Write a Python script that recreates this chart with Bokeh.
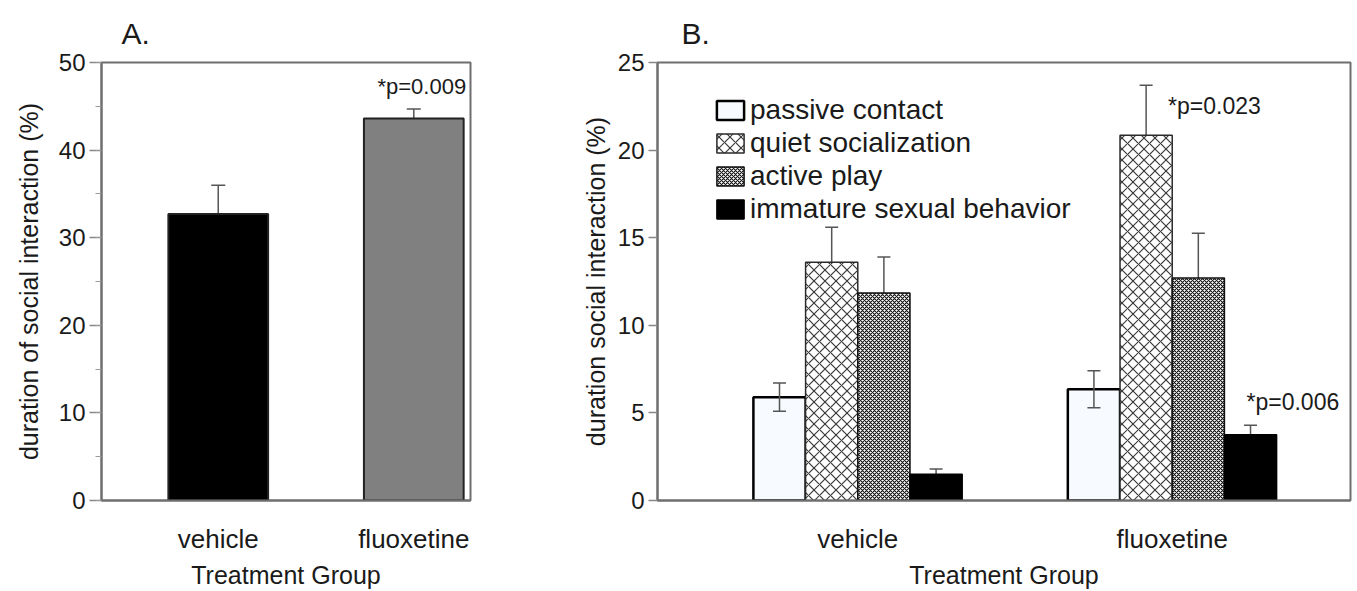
from bokeh.plotting import figure
from bokeh.layouts import row
from bokeh.models import (Range1d, FixedTicker, SingleIntervalTicker, Whisker, TeeHead,
                          ColumnDataSource, Label, Legend, LegendItem, Title)
from bokeh.embed import file_html
from bokeh.resources import INLINE

# ---------------- data ----------------
groups = ["vehicle", "fluoxetine"]

# Panel A: total social interaction
a_means = [32.7, 43.6]
a_errs = [3.3, 1.1]
a_colors = ["#000000", "#808080"]

# Panel B: categories of social interaction
b_series = ["passive contact", "quiet socialization", "active play", "immature sexual behavior"]
passive_means = [5.9, 6.35]
passive_errs = [0.8, 1.05]
quiet_means = [13.6, 20.85]
quiet_errs = [2.0, 2.85]
active_means = [11.85, 12.7]
active_errs = [2.05, 2.55]
immature_means = [1.5, 3.75]
immature_errs = [0.3, 0.55]

FONT = "Liberation Sans"
TXT = "#1a1a1a"
AX = "#6e6e6e"


def style(p, ylabel, label_standoff, tick_out):
    p.outline_line_color = AX
    p.outline_line_width = 2
    p.xgrid.visible = False
    p.ygrid.visible = False
    p.background_fill_color = "white"
    p.border_fill_color = "white"
    for ax in (p.xaxis[0], p.yaxis[0]):
        ax.axis_line_color = AX
        ax.axis_line_width = 2
        ax.major_label_text_font = FONT
        ax.major_label_text_color = TXT
        ax.axis_label_text_font = FONT
        ax.axis_label_text_color = TXT
        ax.axis_label_text_font_style = "normal"
        ax.axis_label_text_font_size = "25px"
    xa = p.xaxis[0]
    xa.major_tick_line_color = None
    xa.minor_tick_line_color = None
    xa.major_label_text_font_size = "26px"
    xa.major_label_standoff = 17
    xa.axis_label = "Treatment Group"
    xa.axis_label_standoff = 4
    ya = p.yaxis[0]
    ya.major_label_text_font_size = "24px"
    ya.major_tick_line_color = "#888888"
    ya.major_tick_line_width = 1.5
    ya.major_tick_out = tick_out
    ya.major_tick_in = 0
    ya.minor_tick_line_color = "#999999"
    ya.minor_tick_out = 6
    ya.minor_tick_in = 0
    ya.major_label_standoff = 4
    ya.axis_label = ylabel
    ya.axis_label_standoff = label_standoff


def panel_title(text, x_off):
    return Title(text=text, text_font=FONT, text_font_size="30px", text_font_style="normal",
                 text_color=TXT, offset=x_off, standoff=25)


# ---------------- Panel A ----------------
xa_pos = [i + 1 for i in range(len(groups))]
pA = figure(frame_width=369, frame_height=438, output_backend="svg", toolbar_location=None,
            x_range=Range1d(0.403, 2.29), y_range=Range1d(0, 50),
            min_border_left=101, min_border_right=30, min_border_top=62, min_border_bottom=86)
pA.title = panel_title("A.", 20)
style(pA, "duration of social interaction (%)", 13, 12)
pA.yaxis[0].ticker = SingleIntervalTicker(interval=10, num_minor_ticks=2)
pA.xaxis[0].ticker = FixedTicker(ticks=xa_pos)
pA.xaxis[0].major_label_overrides = {x: g for x, g in zip(xa_pos, groups)}

srcA = ColumnDataSource(dict(x=xa_pos, top=a_means, color=a_colors,
                             up=[m + e for m, e in zip(a_means, a_errs)]))
pA.add_layout(Whisker(source=srcA, base="x", lower="top", upper="up", dimension="height",
                      line_color="#555555", line_width=1.5, level="underlay",
                      upper_head=TeeHead(size=14, line_color="#555555", line_width=1.5),
                      lower_head=None))
pA.vbar(x="x", top="top", width=0.51, source=srcA, fill_color="color",
        line_color="#222222", line_width=2)
pA.add_layout(Label(x=xa_pos[1], y=a_means[1] + a_errs[1], x_offset=8, y_offset=22,
                    text="*p=0.009", text_font=FONT, text_font_size="22px",
                    text_color=TXT, text_align="center", text_baseline="alphabetic"))

# ---------------- Panel B ----------------
pB = figure(frame_width=693, frame_height=438, output_backend="svg", toolbar_location=None,
            x_range=Range1d(0.363, 2.567), y_range=Range1d(0, 25),
            min_border_left=157, min_border_right=6, min_border_top=62, min_border_bottom=86)
pB.title = panel_title("B.", 24)
style(pB, "duration social interaction (%)", 5, 9)
pB.yaxis[0].ticker = SingleIntervalTicker(interval=5, num_minor_ticks=0)
pB.xaxis[0].ticker = FixedTicker(ticks=xa_pos)
pB.xaxis[0].major_label_overrides = {x: g for x, g in zip(xa_pos, groups)}

bw = 0.166
series_data = [
    (passive_means, passive_errs,
     dict(fill_color="#f7fbff", line_color="#000000", line_width=2.5), True),
    (quiet_means, quiet_errs,
     dict(fill_color="white", hatch_pattern="diagonal_cross", hatch_scale=11,
          hatch_weight=1.2, hatch_color="#3a3a3a", line_color="#2a2a2a", line_width=1.5), False),
    (active_means, active_errs,
     dict(fill_color="white", hatch_pattern="diagonal_cross", hatch_scale=4,
          hatch_weight=1.1, hatch_color="#111111", line_color="#111111", line_width=1.5), False),
    (immature_means, immature_errs,
     dict(fill_color="#000000", line_color="#000000", line_width=1.5), False),
]
items = []
bar_x = {}
for k, (means, errs, sty, both) in enumerate(series_data):
    xs = [x + (k - 1.5) * bw for x in xa_pos]
    bar_x[k] = xs
    src = ColumnDataSource(dict(x=xs, top=means,
                                lo=[m - e if both else m for m, e in zip(means, errs)],
                                up=[m + e for m, e in zip(means, errs)]))
    r = pB.vbar(x="x", top="top", width=bw, source=src, **sty)
    items.append(LegendItem(label=b_series[k], renderers=[r]))
    pB.add_layout(Whisker(source=src, base="x", lower="lo", upper="up", dimension="height",
                          line_color="#555555", line_width=1.5,
                          level="overlay" if both else "underlay",
                          upper_head=TeeHead(size=13, line_color="#555555", line_width=1.5),
                          lower_head=TeeHead(size=13, line_color="#555555", line_width=1.5) if both else None))

legend = Legend(items=items, location=(56, 275), orientation="vertical",
                label_text_font=FONT, label_text_font_size="28px", label_text_color=TXT,
                glyph_width=34, glyph_height=24, label_height=24, label_standoff=3,
                spacing=1, padding=0, margin=0,
                border_line_color=None, background_fill_alpha=0)
pB.add_layout(legend, "center")

pB.add_layout(Label(x=bar_x[1][1], y=quiet_means[1] + quiet_errs[1], x_offset=22, y_offset=-21,
                    text="*p=0.023", text_font=FONT, text_font_size="23px",
                    text_color=TXT, text_align="left", text_baseline="alphabetic"))
pB.add_layout(Label(x=bar_x[3][1], y=immature_means[1] + immature_errs[1], x_offset=-4, y_offset=23,
                    text="*p=0.006", text_font=FONT, text_font_size="23px",
                    text_color=TXT, text_align="left", text_baseline="alphabetic"))

layout = row(pA, pB)
open("out.html", "w").write(file_html(layout, INLINE))
